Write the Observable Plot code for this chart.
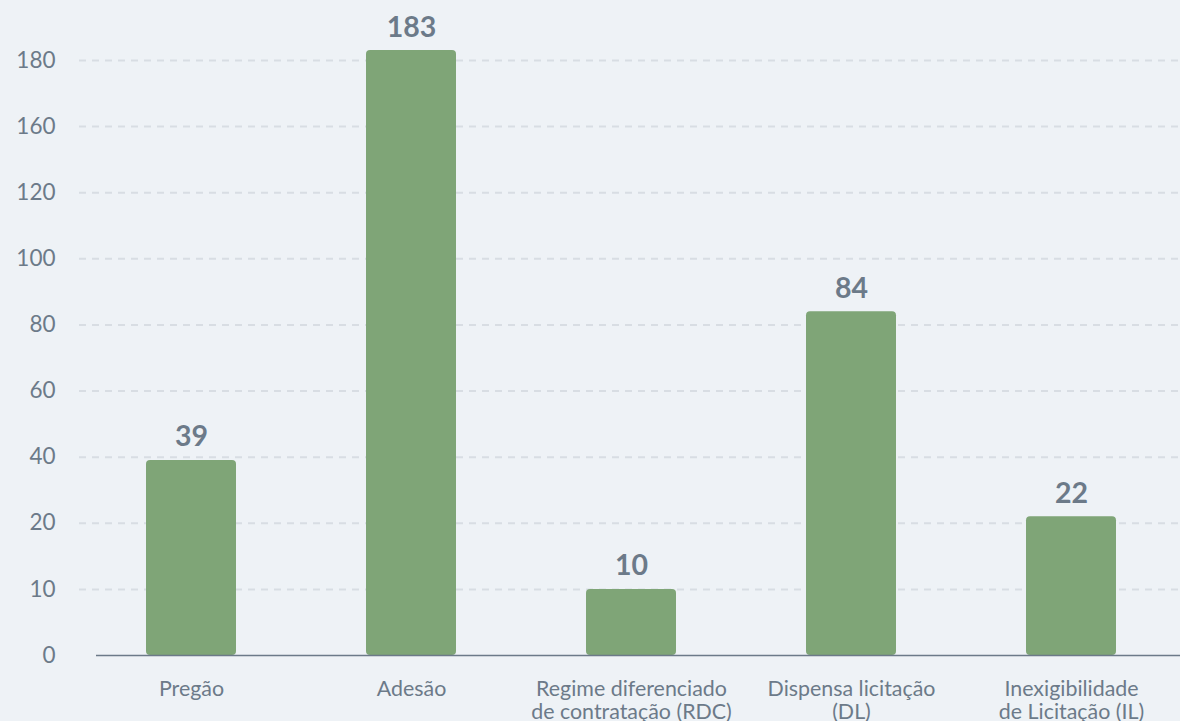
<!DOCTYPE html>
<html><head><meta charset="utf-8">
<script src="https://cdn.jsdelivr.net/npm/d3@7"></script>
<script src="https://cdn.jsdelivr.net/npm/@observablehq/plot@0.6"></script>
<style>
html,body{margin:0;padding:0;background:#eef2f6;}
#chart svg{display:block;}
</style></head><body><div id="chart"></div>
<script>
const categories = ["Pregão","Adesão","Regime diferenciado de contratação (RDC)","Dispensa licitação (DL)","Inexigibilidade de Licitação (IL)"];
const labels = ["Pregão","Adesão","Regime diferenciado\nde contratação (RDC)","Dispensa licitação\n(DL)","Inexigibilidade\nde Licitação (IL)"];
const values = [39,183,10,84,22];
const yTicks = [0,10,20,40,60,80,100,120,160,180];

const data = categories.map((c,i)=>({category:c, label:labels[i], value:values[i]}));
// the original axis places its uneven ticks at equal steps: piecewise-linear transform
const stepOf = d3.scaleLinear().domain(yTicks).range(d3.range(yTicks.length));
const textColor = "#6c7a89";

const chart = Plot.plot({
  width:1180, height:721, marginLeft:79, marginRight:0, marginTop:60, marginBottom:66,
  style:{background:"#eef2f6", fontFamily:"Lato", color:textColor},
  x:{domain:categories, range:[81,1181], paddingInner:0.59, paddingOuter:0.295, label:null},
  y:{transform:d=>stepOf(d), domain:[0, yTicks.length-1], label:null},
  marks:[
    Plot.ruleY(yTicks.filter(d=>d>0), {stroke:"#d8dde3", strokeWidth:2, strokeDasharray:"7,6"}),
    Plot.barY(data, {x:"category", y:"value", fill:"#7fa577", rx:4}),
    Plot.ruleY([0], {stroke:textColor, strokeWidth:1.5, insetLeft:17}),
    Plot.text(data, {x:"category", y:"value", text:d=>String(d.value), dy:-14, lineAnchor:"bottom", fontSize:28.5, fontWeight:"bold", fill:textColor}),
    Plot.axisY(yTicks, {tickSize:0, tickPadding:24, fontSize:22.5, tickFormat:d=>String(d), label:null, fill:textColor}),
    Plot.axisX({tickSize:0, tickPadding:24, fontSize:21.4, lineHeight:1.07, tickFormat:d=>labels[categories.indexOf(d)], label:null, fill:textColor})
  ]
});
document.getElementById("chart").appendChild(chart);
</script></body></html>
